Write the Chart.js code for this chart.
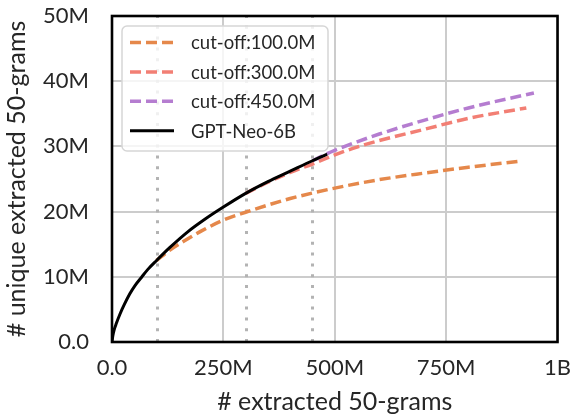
<!DOCTYPE html>
<html>
<head>
<meta charset="utf-8">
<script src="https://cdn.jsdelivr.net/npm/chart.js@4.4.1/dist/chart.umd.min.js"></script>
<style>
  html, body { margin: 0; padding: 0; background: #fff; }
  canvas { display: block; }
</style>
</head>
<body>
<canvas id="chart" width="584" height="417"></canvas>
<script>
// values in millions
const cutoffs = [100, 300, 450];

const neoX = [0, 2, 5, 10, 18, 28, 40, 52, 66, 80, 100, 130, 170, 210, 250, 300, 350, 400, 450, 483];
const neoY = [0, 1.0, 1.9, 2.9, 4.3, 5.8, 7.4, 8.7, 9.9, 11.1, 12.5, 14.5, 16.9, 18.9, 20.7, 22.8, 24.6, 26.2, 27.8, 28.8];

const cut100X = [100, 130, 160, 200, 250, 300, 400, 500, 600, 700, 800, 912];
const cut100Y = [12.5, 14.1, 15.4, 17.0, 18.7, 19.9, 22.0, 23.6, 24.9, 25.9, 26.8, 27.7];

const cut300X = [300, 350, 400, 450, 500, 550, 600, 700, 800, 930];
const cut300Y = [22.8, 24.5, 26.0, 27.3, 28.7, 29.9, 30.9, 32.6, 34.3, 35.9];

const cut450X = [450, 483, 500, 550, 600, 700, 800, 947];
const cut450Y = [27.8, 28.9, 29.4, 30.7, 31.9, 34.0, 35.9, 38.2];

const xTicks = [0, 250, 500, 750, 1000];
const yTicks = [0, 10, 20, 30, 40, 50];

const FONT = 'Lato, "Open Sans", sans-serif';
const TEXT = '#262626';

function pts(xs, ys) {
  return xs.map((x, i) => ({ x: x, y: ys[i] }));
}

function fmt(v) {
  if (v === 0) return '0.0';
  if (v >= 1000) return (v / 1000) + 'B';
  return v + 'M';
}

const cutLabel = (c) => 'cut-off:' + c.toFixed(1) + 'M';

// dotted cut-off markers, frame and legend box
const extras = {
  id: 'extras',
  beforeDatasetsDraw(chart) {
    const { ctx, chartArea: a, scales: { x } } = chart;
    ctx.save();
    ctx.strokeStyle = '#b3b3b3';
    ctx.lineWidth = 3;
    ctx.setLineDash([3, 7.8]);
    cutoffs.forEach((c) => {
      const px = Math.round(x.getPixelForValue(c)) + 0.5;
      ctx.beginPath();
      ctx.moveTo(px, a.bottom);
      ctx.lineTo(px, a.top);
      ctx.stroke();
    });
    ctx.restore();
  },
  afterDatasetsDraw(chart) {
    const { ctx, chartArea: a } = chart;
    ctx.save();

    // legend
    const bx = 122, by = 26, bw = 206, bh = 125;
    ctx.beginPath();
    ctx.roundRect(bx, by, bw, bh, 5);
    ctx.fillStyle = 'rgba(255,255,255,0.8)';
    ctx.fill();
    ctx.strokeStyle = '#d6d6d6';
    ctx.lineWidth = 1.5;
    ctx.stroke();

    ctx.font = '18.5px ' + FONT;
    ctx.textBaseline = 'middle';
    chart.data.datasets.forEach((ds, i) => {
      const ry = 42.5 + i * 29.4;
      ctx.strokeStyle = ds.borderColor;
      ctx.lineWidth = ds.borderWidth;
      ctx.setLineDash(ds.borderDash || []);
      ctx.beginPath();
      ctx.moveTo(130, ry);
      ctx.lineTo(174, ry);
      ctx.stroke();
      ctx.fillStyle = TEXT;
      ctx.fillText(ds.label, 191, ry + 1);
    });

    // frame
    ctx.setLineDash([]);
    ctx.strokeStyle = '#000';
    ctx.lineWidth = 2.6;
    ctx.strokeRect(a.left, a.top, a.right - a.left, a.bottom - a.top);
    ctx.restore();
  }
};

const dashed = [11, 5];

new Chart(document.getElementById('chart'), {
  type: 'line',
  data: {
    datasets: [
      {
        label: cutLabel(cutoffs[0]),
        data: pts(cut100X, cut100Y),
        borderColor: '#e5884b',
        borderWidth: 3.5,
        borderDash: dashed,
        order: 3
      },
      {
        label: cutLabel(cutoffs[1]),
        data: pts(cut300X, cut300Y),
        borderColor: '#f27f74',
        borderWidth: 3.5,
        borderDash: dashed,
        order: 2
      },
      {
        label: cutLabel(cutoffs[2]),
        data: pts(cut450X, cut450Y),
        borderColor: '#b57dd0',
        borderWidth: 3.5,
        borderDash: dashed,
        order: 1
      },
      {
        label: 'GPT-Neo-6B',
        data: pts(neoX, neoY),
        borderColor: '#000000',
        borderWidth: 3,
        order: 0
      }
    ]
  },
  options: {
    responsive: false,
    animation: false,
    devicePixelRatio: 1,
    elements: { point: { radius: 0 }, line: { cubicInterpolationMode: 'monotone' } },
    layout: { padding: { left: 0, top: 16, right: 18, bottom: 0 } },
    plugins: {
      legend: { display: false },
      tooltip: { enabled: false }
    },
    scales: {
      x: {
        type: 'linear',
        min: 0,
        max: 1000,
        afterBuildTicks: (s) => { s.ticks = xTicks.map((v) => ({ value: v })); },
        afterFit: (s) => { s.height = 75; },
        grid: { color: '#cccccc', lineWidth: 2, drawTicks: false },
        border: { display: false },
        ticks: {
          padding: 13,
          color: TEXT,
          font: { family: FONT, size: 22 },
          callback: fmt,
          maxRotation: 0
        },
        title: {
          display: true,
          text: '# extracted 50-grams',
          color: TEXT,
          font: { family: FONT, size: 25 },
          padding: { top: 0, bottom: 0 }
        }
      },
      y: {
        type: 'linear',
        min: 0,
        max: 50,
        afterBuildTicks: (s) => { s.ticks = yTicks.map((v) => ({ value: v })); },
        afterFit: (s) => { s.width = 112; s.paddingTop = 0; s.paddingBottom = 0; },
        grid: { color: '#cccccc', lineWidth: 2, drawTicks: false },
        border: { display: false },
        ticks: {
          padding: 23,
          color: TEXT,
          font: { family: FONT, size: 22 },
          callback: fmt
        },
        title: {
          display: true,
          text: '# unique extracted 50-grams',
          color: TEXT,
          font: { family: FONT, size: 25 },
          padding: { top: 2, bottom: 0 }
        }
      }
    }
  },
  plugins: [extras]
});
</script>
</body>
</html>
